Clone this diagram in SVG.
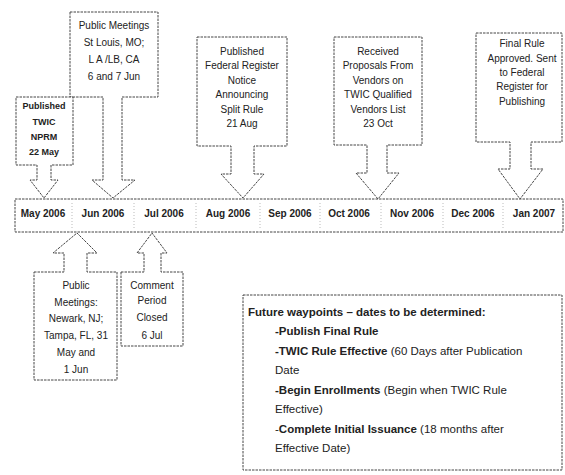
<svg xmlns="http://www.w3.org/2000/svg" width="565" height="475" viewBox="0 0 565 475">
<style>
.shape{fill:#fff;stroke:#444;stroke-width:1;stroke-dasharray:2.5,1}
.sep{stroke:#bbb;stroke-width:1;stroke-dasharray:1,2}
text{font-family:"Liberation Sans",Arial,sans-serif;fill:#222}
.c{font-size:10px;text-anchor:middle}
.cb{font-size:9px;font-weight:bold;text-anchor:middle}
.m{font-size:10px;font-weight:bold;text-anchor:middle}
.f{font-size:11.5px}
.b{font-weight:bold}
</style>
<rect width="565" height="475" fill="#fff"/>
<g id="timeline">
<rect class="shape" x="15" y="199" width="548" height="33"/>
<g class="sep">
<line x1="72" y1="203" x2="72" y2="229"/><line x1="134" y1="203" x2="134" y2="229"/><line x1="196" y1="203" x2="196" y2="229"/><line x1="260" y1="203" x2="260" y2="229"/><line x1="320" y1="203" x2="320" y2="229"/><line x1="381" y1="203" x2="381" y2="229"/><line x1="443" y1="203" x2="443" y2="229"/><line x1="503" y1="203" x2="503" y2="229"/>
</g>
<text class="m" x="43" y="217">May 2006</text>
<text class="m" x="103" y="217">Jun 2006</text>
<text class="m" x="164" y="217">Jul 2006</text>
<text class="m" x="228" y="217">Aug 2006</text>
<text class="m" x="290" y="217">Sep 2006</text>
<text class="m" x="349" y="217">Oct 2006</text>
<text class="m" x="412" y="217">Nov 2006</text>
<text class="m" x="473" y="217">Dec  2006</text>
<text class="m" x="534" y="217">Jan 2007</text>
</g>
<g id="connectors"/>
<g id="jun-meetings">
<path class="shape" d="M70,12 H158 V97 H122 V180 H135 L113,198 L92,180 H103 V97 H70 Z"/>
<text class="c" x="114" y="29">Public Meetings</text>
<text class="c" x="114" y="46">St Louis, MO;</text>
<text class="c" x="114" y="63">L A /LB, CA</text>
<text class="c" x="114" y="80">6 and 7 Jun</text>
</g>
<g id="nprm">
<path class="shape" d="M16,97 H73 V165 H51 V180 H58 L44,198 L30,180 H37 V165 H16 Z"/>
<text class="cb" x="44" y="109">Published</text>
<text class="cb" x="44" y="125">TWIC</text>
<text class="cb" x="44" y="140">NPRM</text>
<text class="cb" x="44" y="155">22 May</text>
</g>
<g id="aug">
<path class="shape" d="M197,37 H287 V146 H254 V174 H264 L243,198 L221,174 H231 V146 H197 Z"/>
<text class="c" x="242" y="55">Published</text>
<text class="c" x="242" y="69">Federal Register</text>
<text class="c" x="242" y="84">Notice</text>
<text class="c" x="242" y="98">Announcing</text>
<text class="c" x="242" y="113">Split Rule</text>
<text class="c" x="242" y="127">21 Aug</text>
</g>
<g id="oct">
<path class="shape" d="M334,37 H422 V145 H387 V173 H399 L378,199 L356,173 H367 V145 H334 Z"/>
<text class="c" x="378" y="55">Received</text>
<text class="c" x="378" y="69">Proposals From</text>
<text class="c" x="378" y="84">Vendors on</text>
<text class="c" x="378" y="98">TWIC Qualified</text>
<text class="c" x="378" y="113">Vendors List</text>
<text class="c" x="378" y="127">23 Oct</text>
</g>
<g id="jan">
<path class="shape" d="M476,33 H562 V142 H531 V169 H543 L520,199 L498,169 H510 V142 H476 Z"/>
<text class="c" x="522" y="47">Final Rule</text>
<text class="c" x="522" y="62">Approved.  Sent</text>
<text class="c" x="522" y="76">to Federal</text>
<text class="c" x="522" y="90">Register for</text>
<text class="c" x="522" y="105">Publishing</text>
</g>
<g id="newark">
<path class="shape" d="M34,272 H64 V253 H53 L77,233 L97,253 H87 V272 H117 V380 H34 Z"/>
<text class="c" x="76" y="289">Public</text>
<text class="c" x="76" y="306">Meetings:</text>
<text class="c" x="76" y="322">Newark, NJ;</text>
<text class="c" x="76" y="339">Tampa, FL, 31</text>
<text class="c" x="76" y="356">May and</text>
<text class="c" x="76" y="373">1 Jun</text>
</g>
<g id="comment">
<path class="shape" d="M121,272 H144 V253 H137 L152,233 L167,253 H161 V272 H183 V346 H121 Z"/>
<text class="c" x="152" y="289">Comment</text>
<text class="c" x="152" y="304">Period</text>
<text class="c" x="152" y="321">Closed</text>
<text class="c" x="152" y="339">6 Jul</text>
</g>
<g id="future">
<rect class="shape" x="243" y="295" width="319" height="175"/>
<text class="f b" x="248" y="316">Future waypoints – dates to be determined:</text>
<text class="f b" x="275" y="335">-Publish Final Rule</text>
<text class="f" x="275" y="355"><tspan class="b">-TWIC Rule Effective</tspan> (60 Days after Publication</text>
<text class="f" x="275" y="374">Date</text>
<text class="f" x="275" y="394"><tspan class="b">-Begin Enrollments</tspan> (Begin when TWIC Rule</text>
<text class="f" x="275" y="413">Effective)</text>
<text class="f" x="275" y="433">-<tspan class="b">Complete Initial Issuance</tspan> (18 months after</text>
<text class="f" x="275" y="452">Effective Date)</text>
</g>
</svg>
